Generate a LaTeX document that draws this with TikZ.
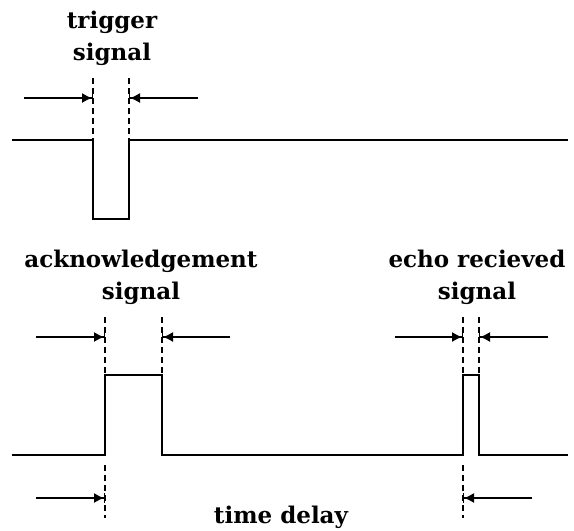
\documentclass[tikz,border=0pt]{standalone}
\usepackage{fontspec}
\setmainfont{DejaVu Serif}
\usetikzlibrary{arrows.meta}
\begin{document}
\begin{tikzpicture}[x=1pt,y=-1pt,
  sig/.style={line width=1.6pt},
  guide/.style={line width=1.3pt,dash pattern=on 6pt off 4pt},
  dimarrow/.style={line width=1.3pt,-{Latex[length=10pt,width=10pt]Bar[width=10pt,line width=1pt]}},
  lab/.style={font=\bfseries\fontsize{23}{32}\selectfont,align=center,inner sep=0pt}]
\useasboundingbox (0,0) rectangle (574,531);
% top trigger signal
\coordinate (t0) at (12,140);
\coordinate (t1) at (93,140);
\coordinate (t2) at (93,219);
\coordinate (t3) at (129,219);
\coordinate (t4) at (129,140);
\coordinate (t5) at (568,140);
\draw[sig] (t0) -- (t1) -- (t2) -- (t3) -- (t4) -- (t5);
\coordinate (tg1) at (93,78);
\coordinate (tg2) at (129,78);
\draw[guide] (tg1) -- (t1);
\draw[guide] (tg2) -- (t4);
\coordinate (ta1s) at (24,98);
\coordinate (ta1e) at (93,98);
\coordinate (ta2s) at (198,98);
\coordinate (ta2e) at (129,98);
\draw[dimarrow] (ta1s) -- (ta1e);
\draw[dimarrow] (ta2s) -- (ta2e);
\node[lab] (trig) at (112,38) {trigger\\signal};
% bottom signal
\coordinate (b0) at (12,455);
\coordinate (b1) at (105,455);
\coordinate (b2) at (105,375);
\coordinate (b3) at (162,375);
\coordinate (b4) at (162,455);
\coordinate (b5) at (463,455);
\coordinate (b6) at (463,375);
\coordinate (b7) at (479,375);
\coordinate (b8) at (479,455);
\coordinate (b9) at (568,455);
\draw[sig] (b0) -- (b1) -- (b2) -- (b3) -- (b4) -- (b5) -- (b6) -- (b7) -- (b8) -- (b9);
% ack guides
\coordinate (ag1) at (105,317);
\coordinate (ag2) at (162,317);
\draw[guide] (ag1) -- (b2);
\draw[guide] (ag2) -- (b3);
\coordinate (aa1s) at (36,337);
\coordinate (aa1e) at (105,337);
\coordinate (aa2s) at (230,337);
\coordinate (aa2e) at (162,337);
\draw[dimarrow] (aa1s) -- (aa1e);
\draw[dimarrow] (aa2s) -- (aa2e);
\node[lab] (ack) at (141,277) {acknowledgement\\signal};
% echo guides
\coordinate (eg1) at (463,317);
\coordinate (eg2) at (479,317);
\draw[guide] (eg1) -- (b6);
\draw[guide] (eg2) -- (b7);
\coordinate (ea1s) at (395,337);
\coordinate (ea1e) at (463,337);
\coordinate (ea2s) at (548,337);
\coordinate (ea2e) at (479,337);
\draw[dimarrow] (ea1s) -- (ea1e);
\draw[dimarrow] (ea2s) -- (ea2e);
\node[lab] (echo) at (477,277) {echo recieved\\signal};
% time delay
\coordinate (dg1s) at (105,465);
\coordinate (dg1e) at (105,518);
\coordinate (dg2s) at (463,465);
\coordinate (dg2e) at (463,518);
\draw[guide] (dg1s) -- (dg1e);
\draw[guide] (dg2s) -- (dg2e);
\coordinate (da1s) at (36,498);
\coordinate (da1e) at (105,498);
\coordinate (da2s) at (532,498);
\coordinate (da2e) at (463,498);
\draw[dimarrow] (da1s) -- (da1e);
\draw[dimarrow] (da2s) -- (da2e);
\node[lab] (delay) at (281,517) {time delay};
\end{tikzpicture}
\end{document}
